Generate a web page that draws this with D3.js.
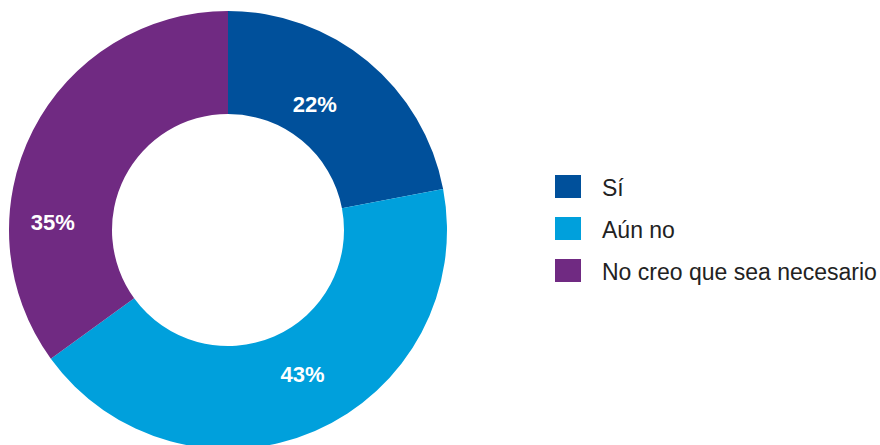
<!DOCTYPE html>
<html lang="es">
<head>
<meta charset="UTF-8">
<title>Donut</title>
<script src="https://d3js.org/d3.v7.min.js"></script>
<style>
  body { margin: 0; background: #fff; }
  text { font-family: "Liberation Sans", Arial, sans-serif; }
</style>
</head>
<body>
<div id="chart"></div>
<script>
// Data
const categories = ['Sí', 'Aún no', 'No creo que sea necesario'];
const values = [22, 43, 35];
const colors = ['#00509b', '#00a0dc', '#702a82'];
// label nudges from the arc centroid (px), as placed in the original
const labelShift = [[-20, 3], [8, -10], [-26, 68]];

const width = 880, height = 445;
const cx = 228, cy = 230, outerR = 219, innerR = 116;

const svg = d3.select('#chart')
    .append('svg')
    .attr('width', width)
    .attr('height', height);

const pie = d3.pie().sort(null).value(d => d);
const arc = d3.arc().innerRadius(innerR).outerRadius(outerR);
const arcs = pie(values);

const g = svg.append('g').attr('transform', `translate(${cx},${cy})`);

g.selectAll('path')
    .data(arcs)
    .enter()
    .append('path')
    .attr('d', arc)
    .attr('fill', (d, i) => colors[i]);

g.selectAll('.lbl')
    .data(arcs)
    .enter()
    .append('text')
    .attr('class', 'lbl')
    .attr('x', (d, i) => arc.centroid(d)[0] + labelShift[i][0])
    .attr('y', (d, i) => arc.centroid(d)[1] + labelShift[i][1])
    .attr('text-anchor', 'middle')
    .attr('dy', '0.36em')
    .attr('fill', '#fff')
    .attr('font-weight', 'bold')
    .attr('font-size', 22)
    .text(d => d.value + '%');

// Legend
const legend = svg.append('g').attr('transform', 'translate(555,175)');
const row = legend.selectAll('g')
    .data(categories)
    .enter()
    .append('g')
    .attr('transform', (d, i) => `translate(0,${i * 42})`);

row.append('rect')
    .attr('width', 26)
    .attr('height', 23)
    .attr('fill', (d, i) => colors[i]);

row.append('text')
    .attr('x', 47)
    .attr('y', 21)
    .attr('font-size', 23)
    .attr('fill', '#222')
    .text(d => d);
</script>
</body>
</html>
